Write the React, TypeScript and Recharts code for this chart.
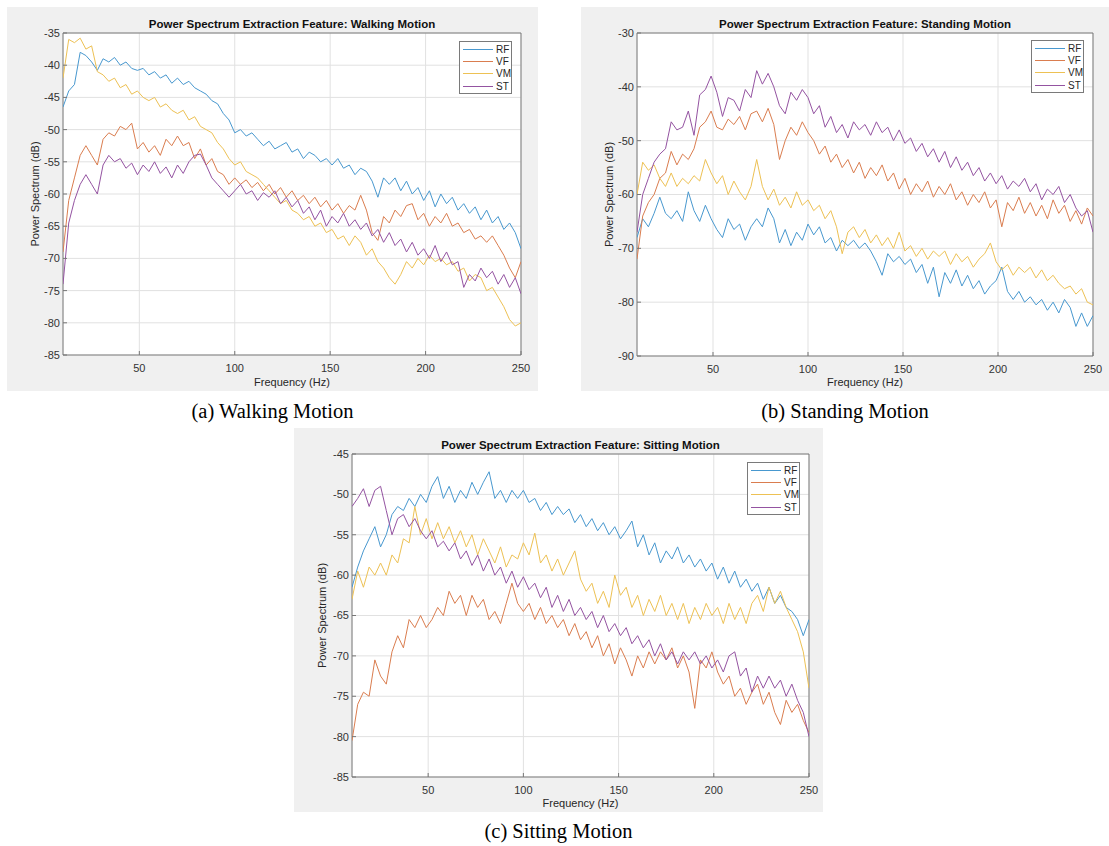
import { LineChart, Line, XAxis, YAxis, CartesianGrid, Legend, ReferenceArea } from "recharts";

// frequency axis (Hz)
const freq = [
  10, 13, 16, 19, 22, 25, 28, 31, 34, 37,
  40, 43, 46, 49, 52, 55, 58, 61, 64, 67,
  70, 73, 76, 79, 82, 85, 88, 91, 94, 97,
  100, 103, 106, 109, 112, 115, 118, 121, 124, 127,
  130, 133, 136, 139, 142, 145, 148, 151, 154, 157,
  160, 163, 166, 169, 172, 175, 178, 181, 184, 187,
  190, 193, 196, 199, 202, 205, 208, 211, 214, 217,
  220, 223, 226, 229, 232, 235, 238, 241, 244, 247,
  250,
];

const xTicks = [50, 100, 150, 200, 250];

// (a) walking
const walkRF = [
  -46.5, -44, -43, -38, -38.5, -39.5, -40.8, -39, -39.5, -38.8,
  -40, -39.5, -40.5, -40.8, -40.5, -41.5, -41, -42, -41.5, -42.8,
  -42, -43, -42.5, -43.5, -44, -44.5, -45.5, -46, -47.5, -48.5,
  -50.5, -50, -51, -50.5, -51.5, -52.5, -51.8, -53, -52.5, -52,
  -53.5, -53, -54.5, -53.5, -54, -55, -54.5, -55.5, -54.5, -56,
  -55.5, -57, -56, -56.5, -58, -60.5, -57.5, -58.5, -57.5, -59.5,
  -58, -60, -59, -61, -59.5, -62, -60, -61.5, -60.5, -62.5,
  -61.5, -63, -62, -64, -62.5, -64.5, -63.5, -65.5, -64.5, -66,
  -68.5,
];
const walkVF = [
  -69, -61, -57.5, -54, -52.5, -54, -55.5, -51.5, -50.5, -51,
  -49.5, -50, -49, -53, -52, -53.5, -52.5, -54, -51.5, -52.5,
  -51, -52.5, -52, -54.5, -53, -55.5, -54.5, -56.5, -57, -58.5,
  -57.5, -58.5, -57.8, -59, -58.2, -59.5, -58.5, -60, -59, -60.5,
  -59.5, -61, -60.2, -61.5, -60.5, -62, -61, -62.5, -61.5, -63,
  -61.8, -62.5, -60.2, -62.5, -66, -67.2, -63.5, -64.5, -62.5, -63.5,
  -61.8, -61.5, -64, -63, -65, -63.5, -64.5, -63, -65, -64.5,
  -66, -65.5, -67, -66.5, -67.5, -66.5, -68, -69.5, -71.5, -73,
  -70.5,
];
const walkVM = [
  -42, -36, -36.5, -35.8, -37.5, -37, -41, -41.5, -42.5, -42,
  -43.5, -43, -44.5, -44, -45, -45.5, -45, -46.5, -46, -47,
  -47.5, -47, -48.5, -48, -49.5, -50, -50.5, -52, -53, -54.5,
  -55.5, -55, -56.5, -57, -57.5, -58.5, -59.5, -60.5, -61.5, -61,
  -62.5, -63, -64, -63.5, -65, -64.5, -66, -65.5, -67, -66.5,
  -68, -66.5, -67.5, -69.5, -68.5, -70.5, -71.5, -73, -74, -72.5,
  -70.5, -71.5, -70, -71, -69.5, -70.5, -70, -71, -70.5, -72,
  -71.5, -73.5, -72.5, -73, -75, -74.5, -76, -77.5, -79.5, -80.5,
  -80,
];
const walkST = [
  -74, -64.5, -61, -58.5, -57, -58.5, -60, -55.5, -54, -55,
  -54.5, -56, -55.2, -57, -55.5, -56.5, -55, -56.8, -55.8, -57.5,
  -55.5, -56.8, -55, -54, -53.8, -55.5, -57.5, -58.5, -59.5, -60.5,
  -59.5, -58.5, -60, -59.5, -61, -59.8, -60.5, -59.5, -61.5, -60.5,
  -62, -61, -63, -62, -64, -62.5, -65, -63.5, -64.5, -63,
  -65, -64, -65.5, -64.5, -66.5, -65.5, -67.5, -66, -68, -67,
  -69, -67.5, -69.5, -68.5, -70, -68, -70.5, -69, -71, -70.5,
  -74.5, -72.5, -73.5, -71.5, -73, -72, -74, -72.5, -74.5, -73,
  -75.5,
];

// (b) standing
const standRF = [
  -68, -64.5, -66, -63.5, -60.5, -63.5, -64.5, -63, -65, -59.5,
  -63, -65, -62, -64.5, -66.5, -68, -64.5, -66.5, -65.5, -68.5,
  -66, -64.5, -66, -62.5, -64.5, -69, -66.5, -69.5, -67, -68.5,
  -65.5, -67.5, -66, -69, -68, -70.5, -68.5, -69.5, -68.5, -70,
  -69, -70.5, -72.5, -75, -71, -72.5, -71.5, -73, -72, -74.5,
  -73, -76.5, -73.5, -79, -74.5, -76.5, -74, -77, -75, -77.5,
  -76, -78.5, -77, -76, -73.5, -78, -79.5, -78, -80, -79,
  -80.5, -79.5, -81.5, -80, -82, -79.5, -81, -84.5, -82, -84.5,
  -82.5,
];
const standVF = [
  -72, -64, -61.5, -60, -57, -56, -52, -54.5, -52.5, -53.5,
  -51.5, -47.5, -46.5, -44.5, -47.5, -48, -46, -47, -45.5, -48,
  -45, -44.5, -46.5, -44, -47, -53.5, -50, -47.5, -49, -46.5,
  -48.5, -50, -52.5, -51, -54, -52.5, -55, -53.5, -56, -54,
  -57, -55, -56.5, -54.5, -57.5, -56, -59, -57, -60, -58,
  -59.5, -57.5, -60.5, -58.5, -60, -58, -61, -59.5, -62, -60,
  -61.5, -59.5, -62.5, -61, -66, -61.5, -63, -60.5, -63.5, -61.5,
  -64, -62, -64.5, -61, -63.5, -62, -65, -63, -65.5, -62.5,
  -64,
];
const standVM = [
  -60, -54, -55.5, -54.5, -57, -58.5, -56, -58.5, -57, -58,
  -56.5, -57.5, -53.5, -56, -58, -56.5, -60, -57.5, -59.5, -61,
  -58.5, -53.5, -58.5, -61, -59, -62, -60.5, -62.5, -59.5, -62,
  -61, -63, -62, -64.5, -63, -66, -71, -67, -66, -68,
  -66.5, -69, -67.5, -69.5, -68, -70, -67, -70.5, -69.5, -71.5,
  -70, -72, -70.5, -71.5, -70.5, -73, -71, -72.5, -71.5, -73.5,
  -72, -71, -69, -72.5, -74, -73, -75, -73.5, -74.5, -73.5,
  -75.5, -74, -76, -75, -76.5, -77.5, -77, -78.5, -77.5, -80,
  -80.5,
];
const standST = [
  -67, -60, -57, -54, -52.5, -51.5, -46.5, -48, -47.5, -44.5,
  -49, -41.5, -40.5, -38, -41, -45.5, -42, -42.5, -44.5, -40.5,
  -42, -37, -39.5, -37.5, -40, -43.5, -45, -41, -42.5, -40.5,
  -42, -45, -43.5, -47.5, -45.5, -48.5, -47, -49.5, -46.5, -48,
  -47, -49, -46.5, -48.5, -47.5, -50, -48, -50.5, -49.5, -52,
  -50.5, -53, -51.5, -54, -52, -55, -53, -55.5, -54, -56.5,
  -55, -57.5, -56, -58, -56.5, -59, -57.5, -58.5, -57, -59.5,
  -58, -61, -59, -60, -58.5, -61.5, -60, -62.5, -64, -63,
  -67,
];

// (c) sitting
const sitRF = [
  -61.5, -59, -57, -55.5, -54, -56.5, -55, -52.5, -51.5, -52,
  -50.5, -51.5, -50, -51, -49, -47.8, -50.5, -49, -51, -49.5,
  -50.5, -48.5, -50, -48.5, -47.2, -50.5, -49.5, -51, -49.5, -50.5,
  -49.5, -51, -50.5, -52, -51, -52.5, -51.5, -52.5, -51.8, -53.5,
  -52.5, -54, -53, -54.5, -53.5, -55, -54, -55.5, -54.5, -53.3,
  -56.5, -55, -57.5, -56, -58.5, -57, -58, -56.5, -58.5, -57.5,
  -59, -58, -59.5, -58.5, -60.5, -59, -61, -59.5, -61.5, -60.5,
  -62, -61, -63, -61.5, -63.5, -62.5, -64, -64.5, -65.5, -67.5,
  -65.5,
];
const sitVF = [
  -80.5, -76, -74.5, -75, -70.5, -72.5, -73.5, -69.5, -67.5, -69,
  -65.5, -66.5, -65, -66.5, -65.5, -64, -65, -62, -63.5, -62.5,
  -65, -62.5, -64, -63, -65.5, -64.5, -66, -63.5, -61, -63.5,
  -64.5, -63.5, -65.5, -64, -66, -65, -66.5, -65.5, -67.5, -66,
  -68, -67, -69, -67.5, -70, -68.5, -71, -69, -70.5, -72.5,
  -70, -71.5, -69.5, -71, -69.5, -70.5, -69, -71.5, -70, -72,
  -76.5, -70.5, -71.5, -69.5, -72, -73.5, -72.5, -75, -74, -76,
  -74.5, -73.5, -76, -74.5, -77, -78.5, -75.5, -77, -76, -78,
  -79.5,
];
const sitVM = [
  -63, -59.5, -61.5, -59, -60, -58.5, -60, -57.5, -58.5, -55.5,
  -56, -51.5, -55, -53, -55.5, -53.5, -55.5, -54, -56, -54.5,
  -56.5, -55, -57.5, -55.5, -57, -58.5, -56.5, -59, -57.5, -58,
  -56, -57.5, -54.8, -58.5, -57.5, -59.5, -58, -60, -58.5, -57,
  -60.5, -62, -61, -63.5, -62, -64, -60, -62.5, -61.5, -64,
  -62.5, -65, -63, -64.5, -62.5, -65, -63.5, -65.5, -63.5, -66,
  -64, -65.5, -63.5, -65, -64, -66, -63.5, -65.5, -64, -66,
  -63.5, -62.5, -64.5, -61.5, -63.5, -62, -64, -65.5, -67, -69.5,
  -74,
];
const sitST = [
  -51.5, -50.5, -49.3, -51.5, -49.5, -49, -52, -55, -53, -52.5,
  -54, -53, -54.5, -55.5, -54.5, -56.5, -55.8, -57, -56, -58,
  -57, -58.8, -57.5, -59.5, -58, -60, -59, -61, -59.5, -61.5,
  -60.2, -61.8, -61, -62.8, -61.5, -64, -62.5, -64.5, -63, -65,
  -64, -65.5, -64.5, -66.5, -65, -67, -66, -67.5, -66.5, -68.5,
  -67.5, -69, -68, -70, -68.5, -70.5, -69.5, -71, -69.5, -70.5,
  -69.5, -71, -70, -71.5, -70.5, -72, -70, -69.5, -72.5, -71.5,
  -74.5, -72.5, -74, -72.5, -74, -73, -75, -73.5, -75.5, -77,
  -80,
];

const colors: Record<string, string> = { RF: "#4898cf", VF: "#da7d4f", VM: "#edc154", ST: "#9453a1" };
const names = ["RF", "VF", "VM", "ST"];

const sans = "'Liberation Sans', Arial, Helvetica, sans-serif";
const tickFont = { fontSize: 11, fill: "#333", fontFamily: sans };

function buildRows(rf: number[], vf: number[], vm: number[], st: number[]) {
  return freq.map((f, i) => ({ f, RF: rf[i], VF: vf[i], VM: vm[i], ST: st[i] }));
}

const LegendBox = (props: any) => {
  const payload = [...(props.payload || [])].sort(
    (a: any, b: any) => names.indexOf(a.value) - names.indexOf(b.value)
  );
  return (
    <div
      style={{
        border: "1px solid #7a7a7a",
        background: "#fff",
        width: 51,
        padding: "1px 0",
        fontFamily: sans,
        fontSize: 10,
        color: "#262626",
      }}
    >
      {payload.map((p: any) => (
        <div key={p.value} style={{ display: "flex", alignItems: "center", height: 12.3 }}>
          <span style={{ display: "inline-block", marginLeft: 3, width: 30, borderTop: `1px solid ${p.color}` }} />
          <span style={{ marginLeft: 3 }}>{p.value}</span>
        </div>
      ))}
    </div>
  );
};

interface PanelProps {
  left: number;
  top: number;
  width: number;
  height: number;
  title: string;
  rows: any[];
  yDomain: [number, number];
  yTicks: number[];
  yAxisWidth: number;
  marginRight: number;
  xAxisHeight: number;
  legendLeft: number;
  legendTop: number;
}

const Panel = (p: PanelProps) => {
  const plotLeft = p.yAxisWidth;
  const plotWidth = p.width - p.yAxisWidth - p.marginRight;
  return (
    <div style={{ position: "absolute", left: p.left, top: p.top, width: p.width, height: p.height, background: "#f0f0f0" }}>
      <div
        style={{
          position: "absolute",
          left: plotLeft,
          width: plotWidth,
          top: 11,
          textAlign: "center",
          fontFamily: sans,
          fontWeight: "bold",
          fontSize: 11.5,
          lineHeight: "12px",
          color: "#111",
        }}
      >
        {p.title}
      </div>
      <LineChart
        width={p.width}
        height={p.height}
        data={p.rows}
        margin={{ top: 26, right: p.marginRight, bottom: 5, left: 0 }}
      >
        <CartesianGrid stroke="#e1e1e1" fill="#ffffff" />
        <XAxis
          type="number"
          dataKey="f"
          domain={[10, 250]}
          ticks={xTicks}
          interval={0}
          allowDataOverflow
          height={p.xAxisHeight}
          axisLine={false}
          tickLine={{ stroke: "#777" }}
          tickSize={-4}
          tickMargin={13}
          tick={tickFont}
          label={{ value: "Frequency (Hz)", position: "insideBottom", offset: 0, style: { fontSize: 11, fill: "#262626", fontFamily: sans } }}
        />
        <XAxis
          xAxisId="top"
          orientation="top"
          type="number"
          dataKey="f"
          domain={[10, 250]}
          ticks={xTicks}
          interval={0}
          allowDataOverflow
          height={0}
          axisLine={false}
          tickLine={{ stroke: "#777" }}
          tickSize={-4}
          tick={false}
        />
        <YAxis
          type="number"
          domain={p.yDomain}
          ticks={p.yTicks}
          interval={0}
          allowDataOverflow
          width={p.yAxisWidth}
          axisLine={false}
          tickLine={{ stroke: "#777" }}
          tickSize={-4}
          tickMargin={7}
          tick={tickFont}
          label={{
            value: "Power Spectrum (dB)",
            angle: -90,
            position: "insideLeft",
            offset: 28,
            style: { textAnchor: "middle", fontSize: 11, fill: "#262626", fontFamily: sans },
          }}
        />
        <YAxis
          yAxisId="right"
          orientation="right"
          type="number"
          domain={p.yDomain}
          ticks={p.yTicks}
          interval={0}
          allowDataOverflow
          width={0}
          axisLine={false}
          tickLine={{ stroke: "#777" }}
          tickSize={-4}
          tick={false}
        />
        <ReferenceArea x1={10} x2={250} y1={p.yDomain[0]} y2={p.yDomain[1]} fill="none" stroke="#6f6f6f" strokeWidth={0.9} />
        {names.map((n) => (
          <Line
            key={n}
            type="linear"
            dataKey={n}
            name={n}
            stroke={colors[n]}
            strokeWidth={1}
            dot={false}
            activeDot={false}
            isAnimationActive={false}
          />
        ))}
        <Legend
          layout="vertical"
          align="center"
          verticalAlign="middle"
          content={LegendBox}
          wrapperStyle={{ left: p.legendLeft, top: p.legendTop, width: 53 }}
        />
      </LineChart>
    </div>
  );
};

const captionStyle = {
  position: "absolute" as const,
  textAlign: "center" as const,
  fontFamily: "'Liberation Serif', 'Times New Roman', serif",
  fontSize: 20.5,
  lineHeight: "24px",
  color: "#000",
};

export default function App() {
  return (
    <div style={{ position: "absolute", left: 0, top: 0, width: 1109, height: 846, background: "#fff", overflow: "hidden" }}>
      <Panel
        left={7}
        top={7}
        width={531}
        height={384}
        title="Power Spectrum Extraction Feature: Walking Motion"
        rows={buildRows(walkRF, walkVF, walkVM, walkST)}
        yDomain={[-85, -35]}
        yTicks={[-85, -80, -75, -70, -65, -60, -55, -50, -45, -40, -35]}
        yAxisWidth={56}
        marginRight={17}
        xAxisHeight={31}
        legendLeft={452}
        legendTop={34}
      />
      <Panel
        left={581}
        top={7}
        width={528}
        height={384}
        title="Power Spectrum Extraction Feature: Standing Motion"
        rows={buildRows(standRF, standVF, standVM, standST)}
        yDomain={[-90, -30]}
        yTicks={[-90, -80, -70, -60, -50, -40, -30]}
        yAxisWidth={56}
        marginRight={16}
        xAxisHeight={30}
        legendLeft={450}
        legendTop={33}
      />
      <Panel
        left={294}
        top={428}
        width={529}
        height={384}
        title="Power Spectrum Extraction Feature: Sitting Motion"
        rows={buildRows(sitRF, sitVF, sitVM, sitST)}
        yDomain={[-85, -45]}
        yTicks={[-85, -80, -75, -70, -65, -60, -55, -50, -45]}
        yAxisWidth={58}
        marginRight={14}
        xAxisHeight={30}
        legendLeft={453}
        legendTop={34}
      />
      <div style={{ ...captionStyle, left: 7, width: 531, top: 399 }}>(a) Walking Motion</div>
      <div style={{ ...captionStyle, left: 581, width: 528, top: 399 }}>(b) Standing Motion</div>
      <div style={{ ...captionStyle, left: 294, width: 529, top: 819 }}>(c) Sitting Motion</div>
    </div>
  );
}
